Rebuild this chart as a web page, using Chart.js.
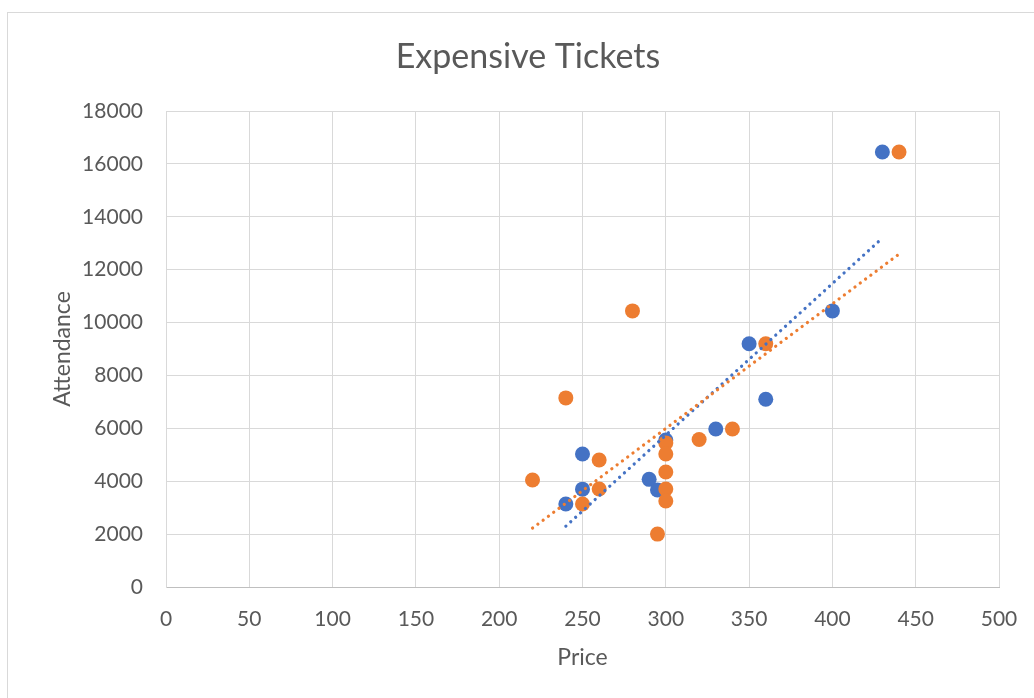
<!DOCTYPE html>
<html>
<head>
<meta charset="utf-8">
<title>Expensive Tickets</title>
<script src="https://cdn.jsdelivr.net/npm/chart.js@4.4.1/dist/chart.umd.min.js"></script>
<style>
  html, body { margin: 0; padding: 0; background: #fff; overflow: hidden; }
  .frame {
    position: absolute; left: 7px; top: 12px;
    width: 1100px; height: 760px;
    border: 1px solid #d9d9d9;
  }
  #chart { position: absolute; left: 0; top: 0; }
</style>
</head>
<body>
<div class="frame"></div>
<canvas id="chart" width="1034" height="698"></canvas>
<script>
// price / attendance pairs, two groups
const priceA = [430, 400, 350, 360, 330, 300, 250, 250, 240, 290, 295];
const attendA = [16450, 10440, 9200, 7100, 5975, 5560, 5030, 3700, 3140, 4070, 3670];

const priceB = [440, 280, 360, 240, 340, 320, 300, 300, 300, 300, 300, 295, 260, 260, 250, 220];
const attendB = [16450, 10440, 9200, 7150, 5976, 5580, 5450, 5030, 4350, 3706, 3250, 2000, 4800, 3706, 3140, 4047];

const xTicks = [0, 50, 100, 150, 200, 250, 300, 350, 400, 450, 500];
const yTicks = [0, 2000, 4000, 6000, 8000, 10000, 12000, 14000, 16000, 18000];

const chartTitle = 'Expensive Tickets';

const blue = '#4472c4';
const orange = '#ed7d31';
const textCol = '#595959';
const fontFam = 'Lato, "Open Sans", sans-serif';

function toPoints(xs, ys) {
  return xs.map((x, i) => ({ x: x, y: ys[i] }));
}

// least squares line, spanning the min..max of x
function trend(xs, ys) {
  const n = xs.length;
  const mx = xs.reduce((a, b) => a + b, 0) / n;
  const my = ys.reduce((a, b) => a + b, 0) / n;
  let sxy = 0, sxx = 0;
  for (let i = 0; i < n; i++) {
    sxy += (xs[i] - mx) * (ys[i] - my);
    sxx += (xs[i] - mx) * (xs[i] - mx);
  }
  const slope = sxy / sxx;
  const x0 = Math.min(...xs), x1 = Math.max(...xs);
  return [
    { x: x0, y: my + slope * (x0 - mx) },
    { x: x1, y: my + slope * (x1 - mx) }
  ];
}

function trendSet(xs, ys, color, order) {
  return {
    type: 'line',
    data: trend(xs, ys),
    borderColor: color,
    borderWidth: 3.2,
    borderDash: [0.1, 6.5],
    borderCapStyle: 'round',
    pointRadius: 0,
    fill: false,
    order: order
  };
}

// title sits a bit right of the canvas middle, like the chart box it belongs to
const titlePlugin = {
  id: 'boxTitle',
  afterDraw(chart) {
    const c = chart.ctx;
    c.save();
    c.fillStyle = textCol;
    c.font = '34px ' + fontFam;
    c.textAlign = 'center';
    c.textBaseline = 'middle';
    c.fillText(chartTitle, 528, 57);
    c.restore();
  }
};

const ctx = document.getElementById('chart').getContext('2d');
const myChart = new Chart(ctx, {
  type: 'scatter',
  data: {
    datasets: [
      {
        data: toPoints(priceA, attendA),
        backgroundColor: blue,
        borderWidth: 0,
        pointRadius: 7.5,
        order: 3
      },
      {
        data: toPoints(priceB, attendB),
        backgroundColor: orange,
        borderWidth: 0,
        pointRadius: 7.5,
        order: 2
      },
      trendSet(priceA, attendA, blue, 1),
      trendSet(priceB, attendB, orange, 0)
    ]
  },
  plugins: [titlePlugin],
  options: {
    responsive: false,
    animation: false,
    layout: { padding: { left: 0, right: 35, top: 111, bottom: 0 } },
    plugins: {
      legend: { display: false },
      tooltip: { enabled: false },
      title: { display: false }
    },
    scales: {
      x: {
        type: 'linear',
        min: 0,
        max: 500,
        afterBuildTicks: (s) => { s.ticks = xTicks.map(v => ({ value: v })); },
        afterFit: (s) => { s.height = 111; s.paddingLeft = 0; s.paddingRight = 0; },
        ticks: {
          color: textCol,
          font: { family: fontFam, size: 21 },
          padding: 20,
          maxRotation: 0,
          callback: (v) => String(v)
        },
        grid: { color: '#d9d9d9', lineWidth: 1, drawTicks: false },
        border: { color: '#bfbfbf', width: 1 },
        title: {
          display: true,
          text: 'Price',
          color: textCol,
          font: { family: fontFam, size: 23 },
          padding: { top: 0, bottom: 27 }
        }
      },
      y: {
        type: 'linear',
        min: 0,
        max: 18000,
        afterBuildTicks: (s) => { s.ticks = yTicks.map(v => ({ value: v })); },
        afterFit: (s) => { s.width = 166; },
        ticks: {
          color: textCol,
          font: { family: fontFam, size: 21 },
          padding: 23,
          callback: (v) => String(v)
        },
        grid: { color: '#d9d9d9', lineWidth: 1, drawTicks: false },
        border: { color: '#d9d9d9', width: 1 },
        title: {
          display: true,
          text: 'Attendance',
          color: textCol,
          font: { family: fontFam, size: 23 },
          padding: { top: 49, bottom: 0 }
        }
      }
    }
  }
});
</script>
</body>
</html>
